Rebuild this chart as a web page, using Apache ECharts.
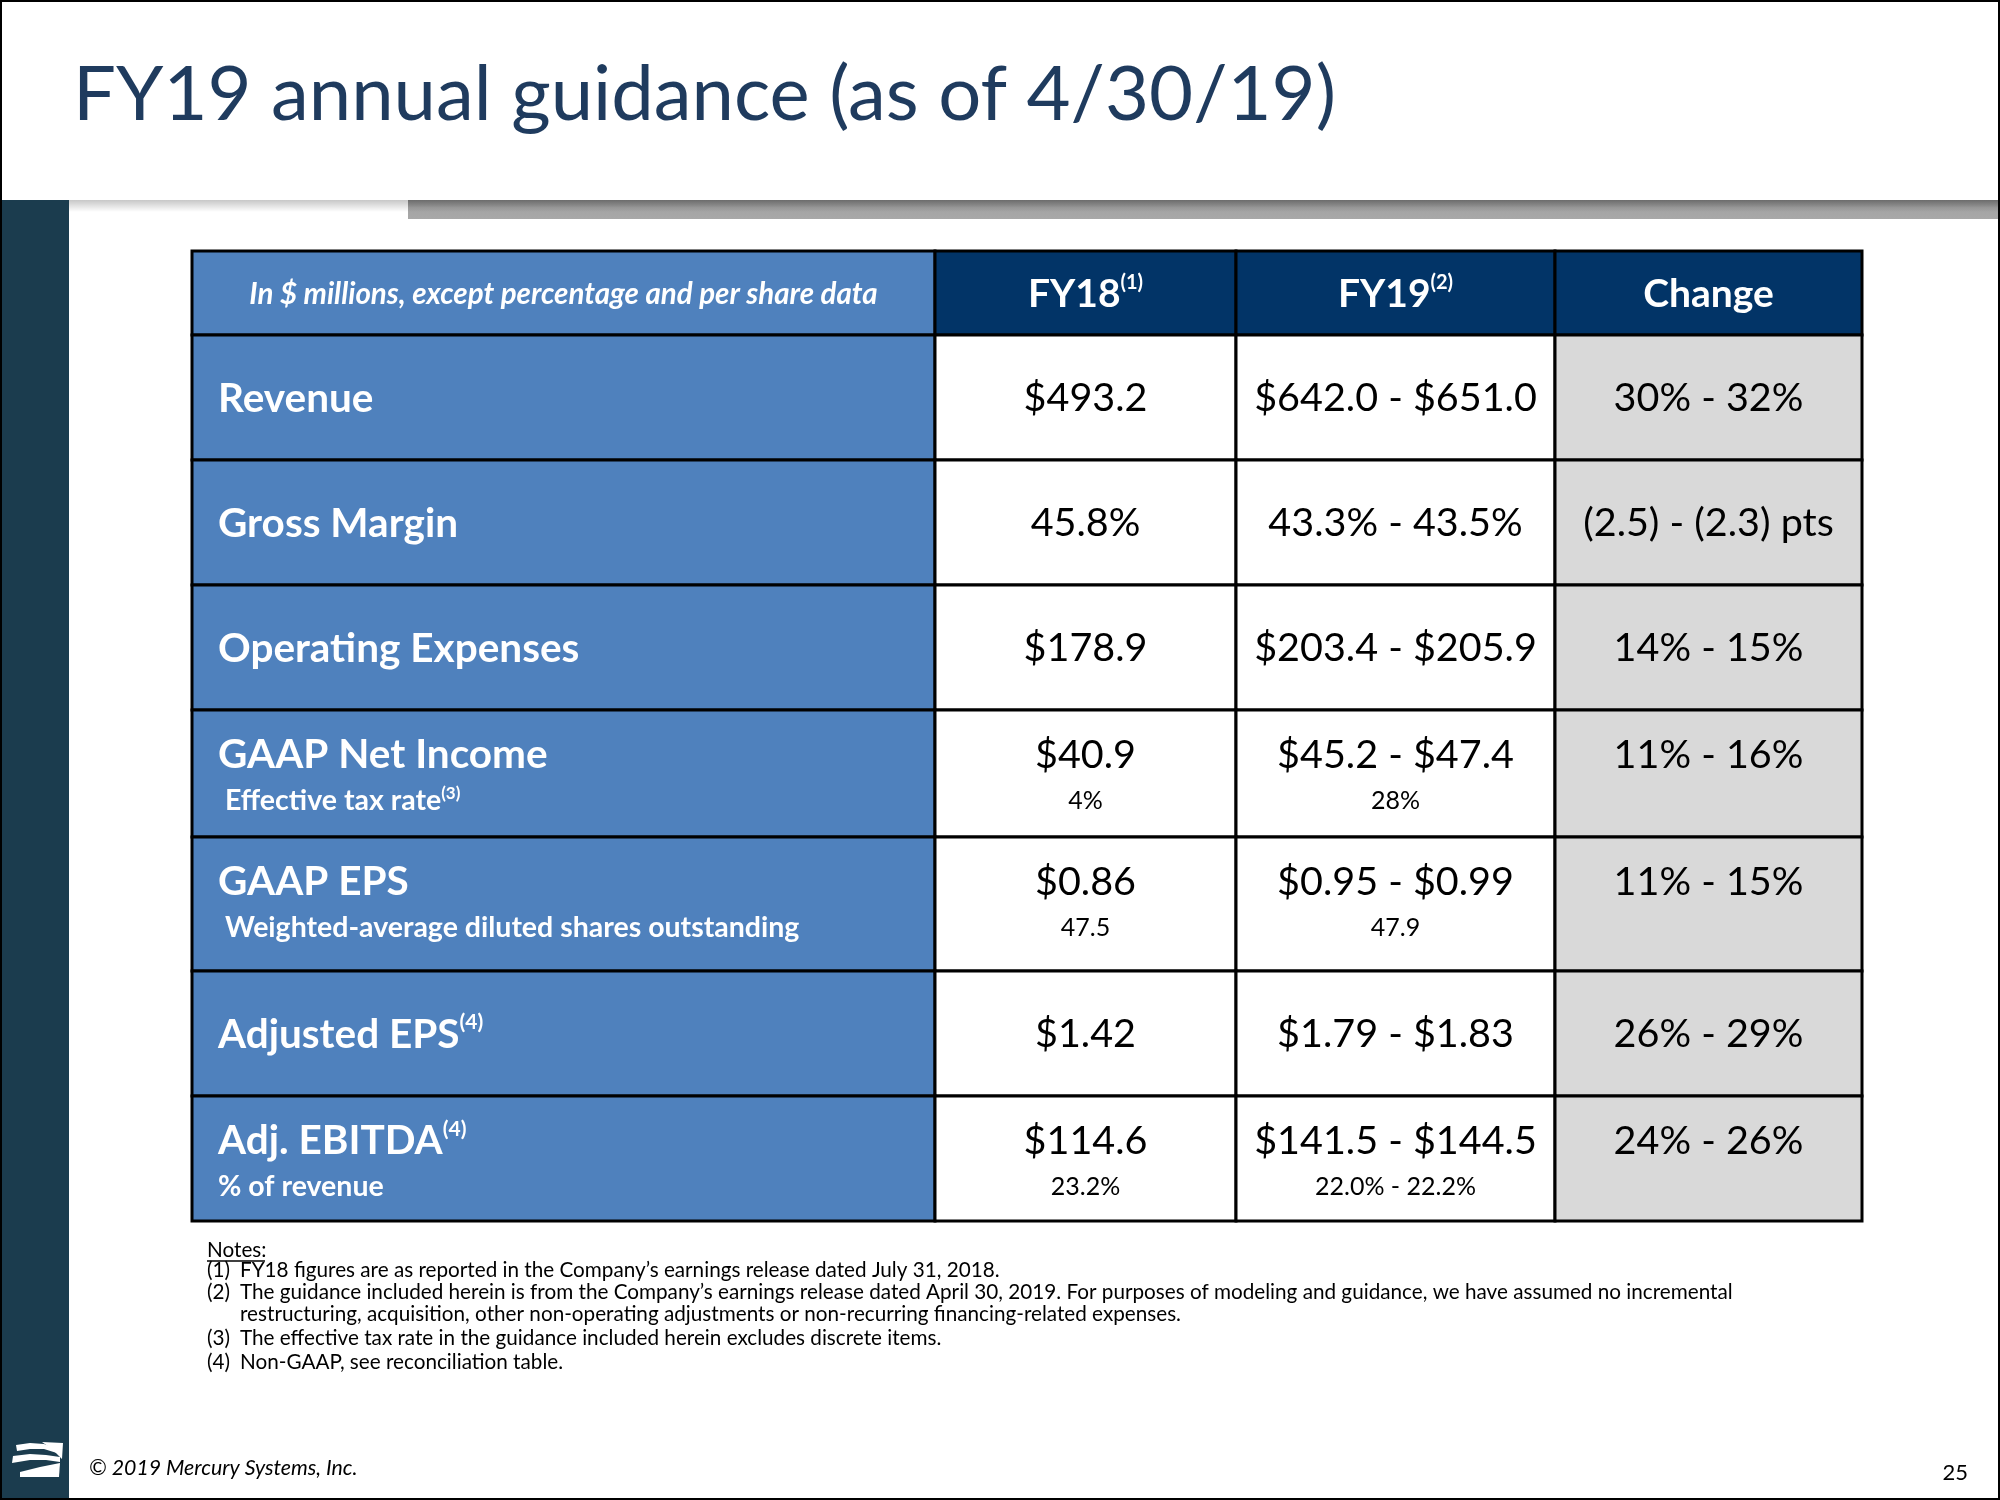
<!DOCTYPE html>
<html>
<head>
<meta charset="utf-8">
<script src="https://cdn.jsdelivr.net/npm/echarts@6/dist/echarts.min.js"></script>
<style>
  html, body { margin: 0; padding: 0; background: #ffffff; }
  #chart { width: 2000px; height: 1500px; }
</style>
</head>
<body>
<div id="chart"></div>
<script>
// ---------- data ----------
const titleText = 'FY19 annual guidance (as of 4/30/19)';
const columns = ['In $ millions, except percentage and per share data', 'FY18', 'FY19', 'Change'];
const columnNotes = ['', '(1)', '(2)', ''];
const metrics = ['Revenue', 'Gross Margin', 'Operating Expenses', 'GAAP Net Income', 'GAAP EPS', 'Adjusted EPS', 'Adj. EBITDA'];
const metricNotes = ['', '', '', '', '', '(4)', '(4)'];
const subMetrics = ['', '', '', ' Effective tax rate', ' Weighted-average diluted shares outstanding', '', '% of revenue'];
const subMetricNotes = ['', '', '', '(3)', '', '', ''];
const fy18 = ['$493.2', '45.8%', '$178.9', '$40.9', '$0.86', '$1.42', '$114.6'];
const fy18Sub = ['', '', '', '4%', '47.5', '', '23.2%'];
const fy19 = ['$642.0 - $651.0', '43.3% - 43.5%', '$203.4 - $205.9', '$45.2 - $47.4', '$0.95 - $0.99', '$1.79 - $1.83', '$141.5 - $144.5'];
const fy19Sub = ['', '', '', '28%', '47.9', '', '22.0% - 22.2%'];
const change = ['30% - 32%', '(2.5) - (2.3) pts', '14% - 15%', '11% - 16%', '11% - 15%', '26% - 29%', '24% - 26%'];
const noteTitle = 'Notes:';
const noteNums = ['(1)', '(2)', '', '(3)', '(4)'];
const noteLines = [
  'FY18 figures are as reported in the Company\u2019s earnings release dated July 31, 2018.',
  'The guidance included herein is from the Company\u2019s earnings release dated April 30, 2019. For purposes of modeling and guidance, we have assumed no incremental',
  'restructuring, acquisition, other non-operating adjustments or non-recurring financing-related expenses.',
  'The effective tax rate in the guidance included herein excludes discrete items.',
  'Non-GAAP, see reconciliation table.'
];
const footerText = '\u00A9 2019 Mercury Systems, Inc.';
const pageNumber = '25';

// ---------- layout (table geometry in axis units = px) ----------
const colEdges = [0, 743, 1044, 1363, 1670];
const rowEdges = [0, 84, 209, 334, 459, 586, 720, 845, 970];
const FONT = 'Lato';
const C_BLUE = '#4f81bd', C_NAVY = '#023467', C_GRAY = '#d9d9d9', C_TITLE = '#1f3b5e';

const cells = [];
for (let r = 0; r < rowEdges.length - 1; r++) {
  for (let c = 0; c < colEdges.length - 1; c++) cells.push([c, r]);
}

function richLabel(main, sup, size, supSize, weight, color) {
  return {
    text: sup ? '{m|' + main + '}{s|' + sup + '}' : '{m|' + main + '}',
    rich: {
      m: { fontSize: size, fontWeight: weight, fontFamily: FONT, fill: color, lineHeight: size * 1.1 },
      s: { fontSize: supSize, fontWeight: weight, fontFamily: FONT, fill: color, verticalAlign: 'top', lineHeight: supSize * 1.05 }
    }
  };
}

function textEl(x, y, align, content) {
  return {
    type: 'text',
    style: Object.assign({ x: x, y: y, align: align, verticalAlign: 'middle' }, content)
  };
}

function renderItem(params, api) {
  const c = api.value(0), r = api.value(1);
  const p0 = api.coord([colEdges[c], rowEdges[r]]);
  const p1 = api.coord([colEdges[c + 1], rowEdges[r + 1]]);
  const x = p0[0], y = p0[1], w = p1[0] - p0[0], h = p1[1] - p0[1];
  let fill;
  if (r === 0) fill = c === 0 ? C_BLUE : C_NAVY;
  else fill = c === 0 ? C_BLUE : (c === 3 ? C_GRAY : '#ffffff');
  const children = [{
    type: 'rect', shape: { x: x, y: y, width: w, height: h },
    style: { fill: fill, stroke: '#000000', lineWidth: 3 }
  }];
  const cx = x + w / 2;
  if (r === 0) {
    if (c === 0) {
      children.push(textEl(cx, y + h / 2 + 1, 'center', {
        text: columns[c], fill: '#ffffff', fontSize: 29.5, fontWeight: 'bold', fontStyle: 'italic', fontFamily: FONT
      }));
    } else {
      children.push(textEl(cx, y + h / 2 + 1, 'center', richLabel(columns[c], columnNotes[c], 39, 20, 'bold', '#ffffff')));
    }
  } else {
    const i = r - 1;
    const hasSub = subMetrics[i] !== '';
    const mainY = hasSub ? y + 45 : y + h / 2 + 1;
    const subY = y + 91;
    if (c === 0) {
      children.push(textEl(x + 26, mainY, 'left', richLabel(metrics[i], metricNotes[i], 40.5, 21, 'bold', '#ffffff')));
      if (hasSub) children.push(textEl(x + 26, subY, 'left', richLabel(subMetrics[i], subMetricNotes[i], 28.5, 17, 'bold', '#ffffff')));
    } else {
      const mainArr = [null, fy18, fy19, change][c];
      const subArr = [null, fy18Sub, fy19Sub, null][c];
      children.push(textEl(cx, mainY, 'center', { text: mainArr[i], fill: '#000000', fontSize: 39.5, fontFamily: FONT }));
      if (subArr && subArr[i]) children.push(textEl(cx, subY, 'center', { text: subArr[i], fill: '#000000', fontSize: 25, fontFamily: FONT }));
    }
  }
  return { type: 'group', children: children };
}

// ---------- decoration ----------
const NOTE_SIZE = 20.7;
const noteY = [1270, 1292, 1314, 1338, 1362];
const graphics = [
  { type: 'rect', shape: { x: 0, y: 0, width: 2000, height: 200 }, style: { fill: '#ffffff' }, z: 1 },
  { type: 'rect', shape: { x: 0, y: 200, width: 69, height: 1300 }, style: { fill: '#1b3c4e' }, z: 1 },
  { type: 'rect', shape: { x: 408, y: 200, width: 1592, height: 19 },
    style: { fill: new echarts.graphic.LinearGradient(0, 0, 0, 1, [{ offset: 0, color: '#8a8a8a' }, { offset: 0.4, color: '#a3a3a3' }, { offset: 1, color: '#a8a8a8' }]) }, z: 1 },
  { type: 'rect', shape: { x: 69, y: 200, width: 1931, height: 12 },
    style: { fill: new echarts.graphic.LinearGradient(0, 0, 0, 1, [{ offset: 0, color: 'rgba(0,0,0,0.22)' }, { offset: 1, color: 'rgba(0,0,0,0)' }]) }, z: 2 },
  { type: 'text', x: 73, y: 95, style: { text: titleText, fill: C_TITLE, fontSize: 76, fontFamily: FONT, verticalAlign: 'middle' }, z: 3 },
  { type: 'text', x: 207, y: 1250, style: { text: noteTitle, fill: '#000000', fontSize: NOTE_SIZE, fontFamily: FONT, verticalAlign: 'middle' }, z: 3 },
  { type: 'line', shape: { x1: 207, y1: 1261, x2: 265, y2: 1261 }, style: { stroke: '#000000', lineWidth: 1.5 }, z: 3 },
  { type: 'text', x: 89, y: 1468, style: { text: footerText, fill: '#000000', fontSize: 21.3, fontStyle: 'italic', fontFamily: FONT, verticalAlign: 'middle' }, z: 3 },
  { type: 'text', x: 1968, y: 1473, style: { text: pageNumber, fill: '#000000', fontSize: 22, fontFamily: FONT, align: 'right', verticalAlign: 'middle' }, z: 3 },
  { type: 'polygon', shape: { points: [[42, 1442], [63, 1443], [62, 1459], [52, 1449]] }, style: { fill: '#ffffff' }, z: 3 },
  { type: 'polygon', shape: { points: [[16, 1445], [30, 1443], [44, 1444], [58, 1449], [60, 1454], [44, 1449], [30, 1449], [17, 1451]] }, style: { fill: '#ffffff' }, z: 3 },
  { type: 'polygon', shape: { points: [[13, 1456], [30, 1454], [46, 1455], [60, 1457], [60, 1462], [46, 1460], [30, 1460], [12, 1463]] }, style: { fill: '#ffffff' }, z: 3 },
  { type: 'polygon', shape: { points: [[20, 1472], [40, 1467], [60, 1463], [59, 1477], [20, 1477]] }, style: { fill: '#ffffff' }, z: 3 },
  { type: 'rect', shape: { x: 1, y: 1, width: 1998, height: 1498 }, style: { fill: 'none', stroke: '#000000', lineWidth: 2 }, z: 10 }
];
for (let k = 0; k < noteLines.length; k++) {
  if (noteNums[k]) graphics.push({ type: 'text', x: 207, y: noteY[k], style: { text: noteNums[k], fill: '#000000', fontSize: NOTE_SIZE, fontFamily: FONT, verticalAlign: 'middle' }, z: 3 });
  graphics.push({ type: 'text', x: 240, y: noteY[k], style: { text: noteLines[k], fill: '#000000', fontSize: NOTE_SIZE, fontFamily: FONT, verticalAlign: 'middle' }, z: 3 });
}

const chart = echarts.init(document.getElementById('chart'), null, { renderer: 'canvas' });
chart.setOption({
  backgroundColor: '#ffffff',
  animation: false,
  grid: { left: 192, top: 251, width: 1670, height: 970, containLabel: false },
  xAxis: { type: 'value', min: 0, max: colEdges[colEdges.length - 1], show: false },
  yAxis: { type: 'value', min: 0, max: rowEdges[rowEdges.length - 1], inverse: true, show: false },
  graphic: graphics,
  series: [{
    type: 'custom',
    coordinateSystem: 'cartesian2d',
    renderItem: renderItem,
    clip: false,
    data: cells,
    z: 5
  }]
});
</script>
</body>
</html>
